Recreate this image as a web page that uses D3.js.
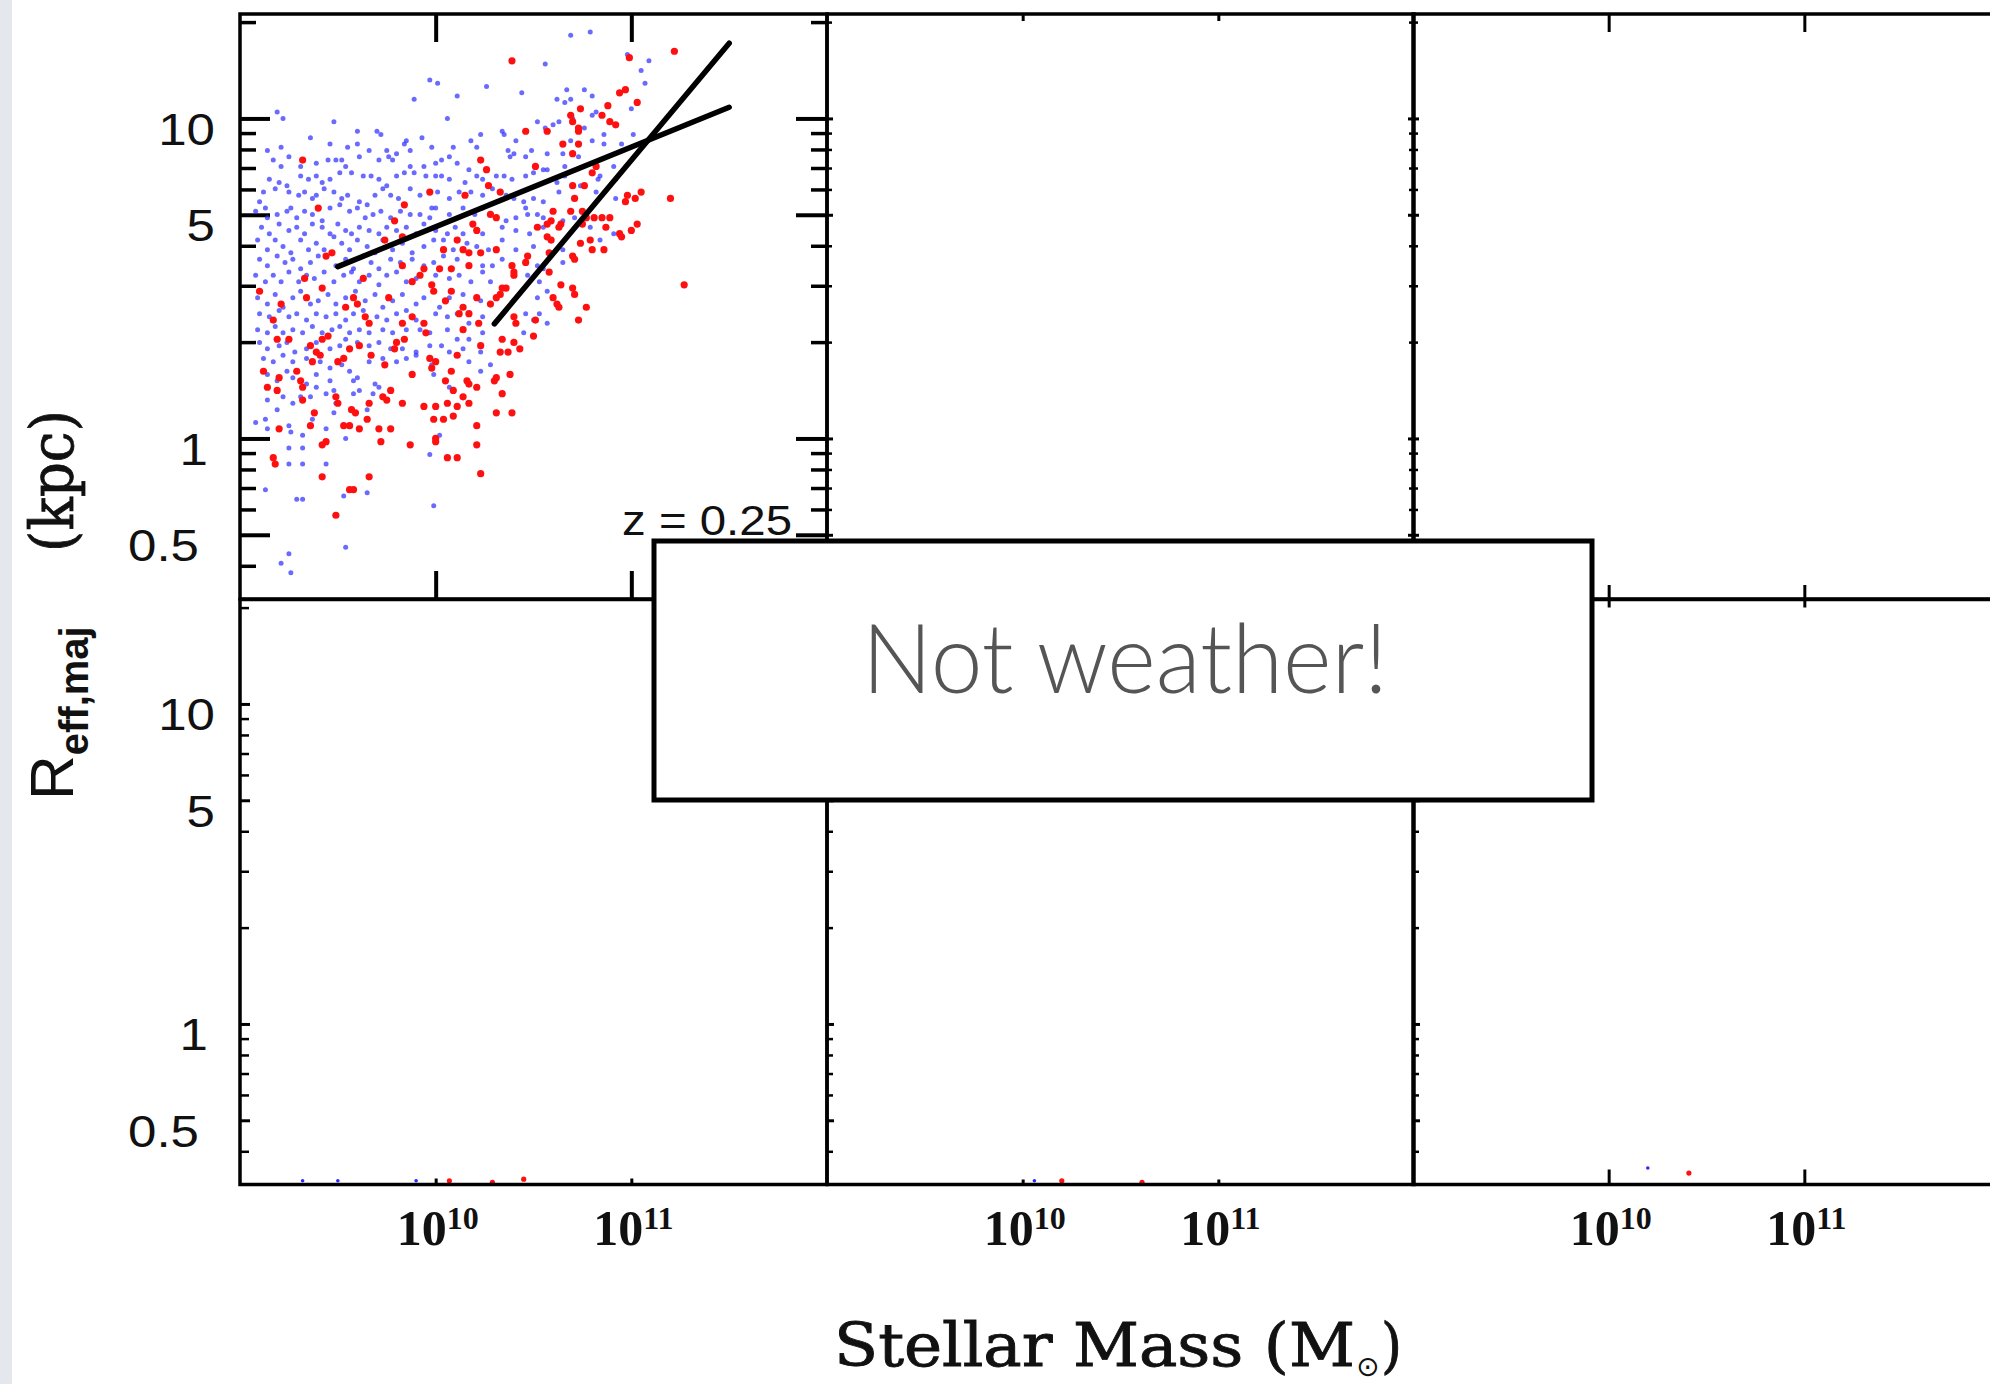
<!DOCTYPE html>
<html>
<head>
<meta charset="utf-8">
<script src="https://cdn.jsdelivr.net/npm/d3@7"></script>
<style>
  body { margin: 0; background: #fff; }
  svg { display: block; }
</style>
</head>
<body>
<svg width="1990" height="1384"></svg>
<script>
// values: log10(M*/Msun), log10(Reff/kpc)
const blueGalaxies = [
  [10.69,1.26],[10.79,1.27],[10.98,1.20],[10.56,1.17],[11.09,1.18],[11.05,1.15],[11.07,1.11],[9.97,1.12],[10.01,1.11],[10.26,1.10],
  [10.44,1.08],[10.11,1.07],[9.89,1.06],[10.67,1.09],[10.76,1.09],[10.80,1.07],[10.62,1.06],[10.66,1.05],[10.69,1.06],[11.00,1.03],
  [11.03,1.05],[10.06,1.00],[9.19,1.02],[9.22,1.00],[10.80,1.01],[10.82,1.02],[10.70,1.00],[9.48,0.99],[9.60,0.96],[9.70,0.96],
  [9.72,0.95],[10.52,0.99],[10.60,0.98],[10.63,0.99],[10.76,0.97],[10.86,0.95],[11.01,0.95],[10.34,0.96],[10.35,0.95],[10.56,0.97],
  [10.23,0.95],[10.18,0.93],[9.36,0.94],[9.93,0.94],[9.85,0.93],[9.84,0.92],[9.46,0.92],[9.55,0.91],[9.60,0.92],[9.66,0.90],
  [9.75,0.90],[9.98,0.91],[10.09,0.91],[10.21,0.91],[10.41,0.93],[10.49,0.90],[10.57,0.89],[10.65,0.89],[10.69,0.93],[10.80,0.93],
  [10.86,0.92],[10.95,0.92],[10.37,0.90],[10.40,0.89],[9.14,0.90],[9.21,0.91],[9.25,0.88],[9.80,0.89],[9.87,0.90],[9.17,0.87],
  [9.21,0.85],[9.31,0.85],[9.39,0.86],[9.45,0.87],[9.49,0.87],[9.52,0.87],[9.54,0.85],[9.61,0.88],[9.71,0.87],[9.76,0.88],
  [9.78,0.87],[9.87,0.85],[9.94,0.85],[10.00,0.86],[10.03,0.87],[10.07,0.88],[10.11,0.86],[10.38,0.88],[10.46,0.88],[10.55,0.84],
  [10.57,0.84],[10.66,0.85],[10.73,0.88],[10.91,0.85],[10.84,0.82],[10.17,0.84],[9.15,0.81],[9.20,0.80],[9.24,0.79],[9.31,0.82],
  [9.35,0.81],[9.39,0.82],[9.42,0.80],[9.46,0.81],[9.51,0.83],[9.57,0.83],[9.63,0.82],[9.67,0.82],[9.71,0.81],[9.75,0.79],
  [9.80,0.82],[9.84,0.83],[9.89,0.83],[9.95,0.82],[10.00,0.82],[10.03,0.82],[10.07,0.81],[10.15,0.80],[10.21,0.82],[10.24,0.81],
  [10.31,0.82],[10.35,0.82],[10.39,0.81],[10.46,0.82],[10.50,0.83],[10.62,0.80],[10.66,0.82],[10.92,0.81],[10.83,0.81],[9.10,0.74],
  [9.12,0.77],[9.18,0.78],[9.25,0.77],[9.30,0.76],[9.33,0.77],[9.37,0.75],[9.39,0.76],[9.43,0.78],[9.48,0.77],[9.52,0.75],
  [9.55,0.76],[9.61,0.74],[9.65,0.73],[9.69,0.76],[9.73,0.78],[9.77,0.76],[9.81,0.75],[9.87,0.78],[9.92,0.76],[10.01,0.77],
  [10.07,0.75],[10.12,0.77],[10.18,0.77],[10.24,0.76],[10.29,0.78],[10.36,0.76],[10.40,0.75],[10.45,0.74],[10.50,0.75],[10.55,0.74],
  [10.63,0.77],[10.74,0.79],[10.82,0.77],[10.92,0.75],[9.98,0.72],[9.08,0.71],[9.13,0.72],[9.14,0.69],[9.19,0.70],[9.24,0.71],
  [9.26,0.72],[9.29,0.69],[9.33,0.71],[9.37,0.70],[9.42,0.68],[9.46,0.72],[9.51,0.73],[9.56,0.71],[9.60,0.72],[9.64,0.69],
  [9.68,0.70],[9.72,0.71],[9.77,0.69],[9.82,0.71],[9.87,0.70],[9.92,0.70],[9.97,0.69],[10.00,0.72],[10.07,0.70],[10.14,0.72],
  [10.20,0.70],[10.24,0.72],[10.36,0.68],[10.41,0.69],[10.46,0.72],[10.52,0.70],[10.55,0.69],[10.65,0.68],[10.71,0.69],[10.47,0.70],
  [9.11,0.66],[9.15,0.64],[9.20,0.67],[9.25,0.65],[9.29,0.66],[9.33,0.64],[9.37,0.67],[9.42,0.66],[9.46,0.64],[9.50,0.67],
  [9.54,0.65],[9.57,0.64],[9.61,0.66],[9.66,0.65],[9.71,0.64],[9.75,0.66],[9.80,0.65],[9.85,0.66],[9.90,0.64],[9.94,0.67],
  [10.00,0.65],[10.06,0.64],[10.10,0.66],[10.14,0.64],[10.24,0.64],[10.34,0.66],[10.41,0.65],[10.48,0.64],[10.55,0.66],[10.79,0.66],
  [10.91,0.64],[9.09,0.62],[9.14,0.59],[9.18,0.62],[9.22,0.60],[9.26,0.58],[9.31,0.62],[9.35,0.59],[9.39,0.61],[9.43,0.59],
  [9.48,0.63],[9.52,0.61],[9.56,0.59],[9.60,0.62],[9.65,0.60],[9.69,0.58],[9.73,0.62],[9.78,0.59],[9.83,0.61],[9.88,0.58],
  [9.94,0.60],[9.99,0.62],[10.04,0.62],[10.09,0.59],[10.16,0.61],[10.21,0.60],[10.27,0.59],[10.34,0.62],[10.41,0.59],[10.50,0.60],
  [10.65,0.59],[10.84,0.62],[9.10,0.56],[9.14,0.54],[9.19,0.57],[9.23,0.55],[9.27,0.56],[9.31,0.53],[9.36,0.55],[9.40,0.57],
  [9.49,0.54],[9.54,0.56],[9.58,0.53],[9.63,0.57],[9.67,0.55],[9.71,0.53],[9.77,0.56],[9.82,0.55],[9.88,0.56],[9.94,0.54],
  [9.99,0.55],[10.04,0.57],[10.11,0.56],[10.24,0.54],[10.29,0.54],[10.34,0.56],[10.52,0.54],[10.55,0.53],[10.65,0.55],[9.08,0.51],
  [9.13,0.49],[9.17,0.51],[9.21,0.49],[9.25,0.52],[9.30,0.49],[9.34,0.51],[9.38,0.50],[9.43,0.52],[9.48,0.49],[9.53,0.51],
  [9.57,0.52],[9.61,0.49],[9.66,0.51],[9.71,0.48],[9.75,0.51],[9.80,0.52],[9.85,0.49],[9.90,0.50],[10.00,0.51],[10.07,0.50],
  [10.12,0.51],[10.18,0.49],[10.24,0.52],[10.28,0.49],[10.47,0.51],[10.53,0.49],[9.09,0.44],[9.14,0.42],[9.18,0.45],[9.22,0.41],
  [9.27,0.44],[9.31,0.46],[9.36,0.42],[9.40,0.43],[9.45,0.45],[9.49,0.42],[9.54,0.44],[9.59,0.46],[9.64,0.43],[9.69,0.45],
  [9.73,0.41],[9.78,0.43],[9.83,0.45],[9.90,0.42],[9.94,0.44],[10.02,0.41],[10.07,0.44],[10.14,0.45],[10.23,0.43],[10.52,0.44],
  [10.57,0.46],[9.10,0.39],[9.15,0.38],[9.20,0.40],[9.25,0.38],[9.29,0.39],[9.34,0.37],[9.39,0.39],[9.44,0.38],[9.49,0.39],
  [9.54,0.37],[9.58,0.39],[9.63,0.40],[9.70,0.38],[9.75,0.37],[9.80,0.39],[9.85,0.40],[9.90,0.37],[10.00,0.39],[10.06,0.38],
  [10.11,0.39],[10.17,0.36],[10.24,0.38],[10.46,0.39],[10.50,0.37],[10.57,0.36],[10.53,0.39],[9.09,0.34],[9.14,0.33],[9.18,0.35],
  [9.22,0.33],[9.27,0.34],[9.32,0.33],[9.37,0.35],[9.42,0.33],[9.47,0.34],[9.51,0.35],[9.56,0.33],[9.61,0.34],[9.66,0.33],
  [9.73,0.34],[9.78,0.33],[9.85,0.34],[9.92,0.34],[9.97,0.33],[10.06,0.34],[10.11,0.31],[10.17,0.31],[10.24,0.33],[10.45,0.33],
  [9.10,0.30],[9.14,0.28],[9.20,0.29],[9.24,0.30],[9.28,0.27],[9.34,0.28],[9.39,0.30],[9.46,0.28],[9.51,0.29],[9.54,0.31],
  [9.60,0.30],[9.66,0.29],[9.71,0.30],[9.77,0.28],[9.83,0.28],[9.90,0.27],[9.97,0.29],[10.03,0.29],[10.14,0.28],[10.07,0.27],
  [10.23,0.27],[9.12,0.25],[9.17,0.24],[9.22,0.26],[9.27,0.24],[9.34,0.25],[9.41,0.24],[9.46,0.22],[9.52,0.23],[9.56,0.21],
  [9.60,0.19],[9.66,0.24],[9.73,0.25],[9.80,0.24],[9.85,0.25],[9.90,0.26],[9.99,0.20],[10.17,0.24],[10.23,0.21],[10.28,0.23],
  [9.14,0.20],[9.19,0.18],[9.24,0.21],[9.27,0.19],[9.34,0.17],[9.39,0.20],[9.46,0.18],[9.48,0.15],[9.58,0.18],[9.61,0.15],
  [9.69,0.17],[9.71,0.16],[9.98,0.23],[10.07,0.16],[9.14,0.12],[9.19,0.09],[9.22,0.13],[9.27,0.11],[9.31,0.13],[9.36,0.13],
  [9.39,0.16],[9.44,0.14],[9.49,0.11],[9.58,0.14],[9.65,0.09],[9.68,0.14],[9.08,0.05],[9.13,0.06],[9.14,0.03],[9.25,0.04],
  [9.26,0.02],[9.32,0.01],[9.37,0.06],[9.44,0.03],[9.48,0.08],[9.54,0.00],[9.25,-0.03],[9.32,-0.03],[9.25,-0.08],[9.32,-0.08],
  [9.44,-0.08],[9.97,-0.05],[10.02,0.01],[9.13,-0.16],[9.29,-0.19],[9.32,-0.19],[9.53,-0.18],[9.65,-0.17],[9.99,-0.21],[9.54,-0.34],
  [9.25,-0.36],[9.21,-0.39],[9.26,-0.42]
]

const redGalaxies = [
  [10.39,1.18],[10.99,1.19],[11.22,1.21],[10.94,1.08],[10.97,1.09],[11.03,1.05],[10.74,1.03],[10.88,1.04],[10.85,1.01],[10.69,1.01],
  [10.70,0.99],[10.73,0.97],[10.73,0.96],[10.89,0.99],[10.92,0.98],[10.46,0.96],[10.57,0.96],[10.65,0.92],[10.73,0.92],[10.70,0.89],
  [10.51,0.85],[10.82,0.85],[10.80,0.83],[10.23,0.87],[10.26,0.84],[10.27,0.79],[10.33,0.77],[10.15,0.76],[9.97,0.77],[9.84,0.73],
  [9.40,0.72],[9.32,0.87],[9.79,0.68],[9.83,0.63],[9.74,0.62],[10.70,0.79],[10.76,0.79],[10.71,0.75],[10.60,0.71],[10.69,0.71],
  [10.75,0.71],[10.77,0.69],[10.81,0.69],[10.85,0.69],[10.89,0.69],[10.87,0.66],[10.52,0.66],[10.57,0.67],[10.59,0.68],[10.64,0.67],
  [10.63,0.66],[10.75,0.67],[10.97,0.74],[10.98,0.76],[11.02,0.75],[11.05,0.77],[11.20,0.75],[10.94,0.64],[10.95,0.63],[11.00,0.65],
  [11.03,0.67],[10.28,0.70],[10.31,0.69],[10.19,0.67],[10.21,0.65],[10.11,0.62],[10.04,0.59],[10.14,0.59],[10.23,0.58],[10.31,0.59],
  [10.17,0.58],[10.57,0.63],[10.59,0.62],[10.58,0.58],[10.74,0.61],[10.79,0.62],[10.80,0.59],[10.86,0.59],[10.47,0.57],[10.46,0.55],
  [10.70,0.57],[10.71,0.56],[10.39,0.54],[10.40,0.52],[10.40,0.51],[10.58,0.52],[10.64,0.48],[10.70,0.47],[10.71,0.45],[10.77,0.41],
  [11.27,0.48],[10.60,0.44],[10.62,0.42],[10.63,0.41],[10.34,0.47],[10.36,0.47],[10.33,0.45],[10.31,0.44],[10.28,0.42],[10.21,0.44],
  [10.17,0.54],[10.08,0.53],[10.02,0.53],[9.98,0.48],[9.99,0.46],[9.94,0.53],[9.92,0.51],[9.88,0.49],[9.76,0.44],[9.63,0.50],
  [9.58,0.44],[9.60,0.42],[9.54,0.41],[9.44,0.57],[9.47,0.58],[9.33,0.50],[9.42,0.47],[9.34,0.44],[9.21,0.42],[9.10,0.46],
  [9.83,0.54],[10.08,0.46],[10.14,0.41],[10.05,0.43],[9.17,0.37],[9.19,0.31],[9.12,0.21],[9.20,0.19],[9.19,0.15],[9.14,0.16],
  [9.29,0.21],[9.31,0.18],[9.32,0.16],[9.32,0.12],[9.25,0.31],[9.36,0.29],[9.39,0.27],[9.42,0.31],[9.45,0.32],[9.37,0.24],
  [9.41,0.26],[9.50,0.24],[9.53,0.25],[9.56,0.28],[9.61,0.29],[9.64,0.38],[9.66,0.36],[9.67,0.26],[9.74,0.23],[9.79,0.28],
  [9.80,0.30],[9.84,0.31],[9.83,0.36],[9.88,0.38],[9.94,0.36],[9.95,0.33],[9.88,0.20],[9.97,0.25],[10.00,0.24],[9.98,0.22],
  [10.05,0.18],[10.08,0.21],[10.11,0.26],[10.14,0.34],[10.12,0.39],[10.17,0.39],[10.23,0.29],[10.22,0.36],[10.31,0.19],[10.30,0.18],
  [10.16,0.18],[10.17,0.17],[10.21,0.16],[10.09,0.15],[10.14,0.13],[10.17,0.11],[10.11,0.10],[10.06,0.11],[10.00,0.10],[9.94,0.10],
  [9.83,0.11],[9.77,0.15],[9.73,0.13],[9.75,0.12],[9.66,0.11],[9.65,0.06],[9.61,0.03],[9.56,0.04],[9.53,0.04],[9.57,0.09],
  [9.59,0.08],[9.49,0.13],[9.50,0.11],[9.38,0.08],[9.36,0.04],[9.20,0.03],[9.42,-0.02],[9.44,-0.01],[9.71,0.03],[9.77,0.03],
  [9.72,-0.01],[9.87,-0.02],[10.00,0.00],[10.00,-0.01],[9.99,0.06],[10.04,0.06],[10.09,0.07],[10.21,0.04],[10.21,-0.02],[10.06,-0.06],
  [10.11,-0.06],[10.23,-0.11],[10.31,0.08],[10.39,0.08],[10.34,0.14],[10.38,0.20],[10.33,0.27],[10.37,0.27],[10.40,0.30],[10.43,0.28],
  [10.41,0.36],[10.40,0.38],[10.34,0.31],[10.50,0.32],[10.51,0.37],[10.73,0.37],[9.17,-0.06],[9.18,-0.08],[9.42,-0.12],[9.66,-0.12],
  [9.56,-0.16],[9.58,-0.16],[9.49,-0.24]
]

// size-mass relations drawn in the z = 0.25 panel (log M, log R)
const blueFit = [[9.50,0.537],[11.50,1.035]]
const redFit = [[10.30,0.358],[11.50,1.235]]

// stray points sitting on the lower edge of the bottom-row panels: [column, log M, log R]
const edgeBlue = [[0,9.32,-0.49],[0,9.50,-0.49],[0,9.90,-0.49],[1,10.06,-0.49],[2,10.20,-0.45]]
const edgeRed = [[0,10.07,-0.49],[0,10.29,-0.495],[0,10.45,-0.485],[1,10.20,-0.49],[1,10.61,-0.495],[2,10.41,-0.466]]

const xDomain = [1e9, 1e12]
const yDomain = [0.315, 21.2]
const xTicks = [1e10, 1e11]
const xTickExp = ['10', '11']
const yMajor = [0.5, 1, 5, 10]
const yMinor = [0.4, 0.6, 0.7, 0.8, 0.9, 2, 3, 4, 6, 7, 8, 9, 20]
const yLabels = ['0.5', '1', '5', '10']

let svg = d3.select("svg")

const colX = [240, 827, 1413],
    rowY = [14, 599.5],
    panelW = 587,
    panelH = 585

// slide edge strip
svg.append("rect").attr("x", 0).attr("y", 0).attr("width", 12).attr("height", 1384).attr("fill", "#e4e7eb")

// tick lengths per panel: [major, minor] on left/right, plain on top/bottom
const panels = [
    {col: 0, row: 0, left: [30, 16], right: [31, 16], top: 28, bottom: 28, w: 4},
    {col: 1, row: 0, left: [6, 5], right: [6, 5], top: 7, bottom: 7, w: 3},
    {col: 2, row: 0, left: [6, 5], right: [0, 0], top: 18, bottom: 14, w: 3},
    {col: 0, row: 1, left: [10, 9], right: [0, 0], top: 0, bottom: 6, w: 3},
    {col: 1, row: 1, left: [7, 6], right: [0, 0], top: 0, bottom: 5, w: 3},
    {col: 2, row: 1, left: [7, 6], right: [0, 0], top: 8, bottom: 15, w: 3}
]

function scalesFor(col, row) {
    let x = d3.scaleLog().domain(xDomain).range([colX[col], colX[col] + panelW])
    let y = d3.scaleLog().domain(yDomain).range([rowY[row] + panelH, rowY[row]])
    return {x, y}
}

function tickGroup(axis, tx, ty, w) {
    svg.append("g")
        .attr("transform", "translate(" + tx + "," + ty + ")")
        .call(axis)
        .call(g => g.select(".domain").remove())
        .call(g => g.selectAll(".tick text").remove())
        .call(g => g.selectAll(".tick line").attr("stroke", "#000").attr("stroke-width", w))
}

panels.forEach(function (p) {
    let {x, y} = scalesFor(p.col, p.row)
    let x0 = colX[p.col], y0 = rowY[p.row]

    if (p.left[0]) {
        tickGroup(d3.axisLeft(y).tickValues(yMajor).tickSize(-p.left[0]), x0, 0, p.w)
        tickGroup(d3.axisLeft(y).tickValues(yMinor).tickSize(-p.left[1]), x0, 0, p.w - 0.5)
    }
    if (p.right[0]) {
        tickGroup(d3.axisRight(y).tickValues(yMajor).tickSize(-p.right[0]), x0 + panelW, 0, p.w)
        tickGroup(d3.axisRight(y).tickValues(yMinor).tickSize(-p.right[1]), x0 + panelW, 0, p.w - 0.5)
    }
    if (p.top) tickGroup(d3.axisTop(x).tickValues(xTicks).tickSize(-p.top), 0, y0, p.w)
    if (p.bottom) tickGroup(d3.axisBottom(x).tickValues(xTicks).tickSize(-p.bottom), 0, y0 + panelH, p.w)
})

// clip for the scatter panel
svg.append("clipPath").attr("id", "clip0")
    .append("rect").attr("x", colX[0]).attr("y", rowY[0]).attr("width", panelW).attr("height", panelH)

let s0 = scalesFor(0, 0)
let pts = svg.append("g").attr("clip-path", "url(#clip0)")

pts.append("g").selectAll("circle").data(blueGalaxies)
    .enter().append("circle")
    .attr("cx", d => s0.x(Math.pow(10, d[0])))
    .attr("cy", d => s0.y(Math.pow(10, d[1])))
    .attr("r", 2.5)
    .style("fill", "#3030ff")
    .style("opacity", 0.72)

pts.append("g").selectAll("circle").data(redGalaxies)
    .enter().append("circle")
    .attr("cx", d => s0.x(Math.pow(10, d[0])))
    .attr("cy", d => s0.y(Math.pow(10, d[1])))
    .attr("r", 3.6)
    .style("fill", "#ff1010")

let line = d3.line()
    .x(d => s0.x(Math.pow(10, d[0])))
    .y(d => s0.y(Math.pow(10, d[1])))

;[blueFit, redFit].forEach(function (f) {
    pts.append("path").attr("d", line(f))
        .attr("fill", "none").attr("stroke", "#000")
        .attr("stroke-width", 5.5).attr("stroke-linecap", "round")
})

// stray edge points in the bottom row
for (let c = 0; c < 3; c++) {
    svg.append("clipPath").attr("id", "clipb" + c)
        .append("rect").attr("x", colX[c]).attr("y", rowY[1]).attr("width", panelW).attr("height", panelH)
}
;[[edgeBlue, "#2a2aff", 1.8], [edgeRed, "#ff1010", 2.6]].forEach(function (e) {
    svg.append("g").selectAll("circle").data(e[0])
        .enter().append("circle")
        .attr("clip-path", d => "url(#clipb" + d[0] + ")")
        .attr("cx", d => scalesFor(d[0], 1).x(Math.pow(10, d[1])))
        .attr("cy", d => scalesFor(d[0], 1).y(Math.pow(10, d[2])))
        .attr("r", e[2])
        .style("fill", e[1])
})

// frames
panels.forEach(function (p) {
    svg.append("rect")
        .attr("x", colX[p.col]).attr("y", rowY[p.row])
        .attr("width", panelW).attr("height", panelH)
        .attr("fill", "none").attr("stroke", "#000").attr("stroke-width", 3.5)
})

// y tick labels on the left column (the original is a little stretched sideways)
const labelDx = [-16, -7, 0, 0]
for (let r = 0; r < 2; r++) {
    let {y} = scalesFor(0, r)
    svg.append("g").selectAll("text").data(yMajor)
        .enter().append("text")
        .attr("transform", (d, i) => "translate(" + (215 + labelDx[i]) + "," + (y(d) + 11) + ") scale(1.16,1)")
        .attr("dominant-baseline", "central")
        .attr("text-anchor", "end")
        .style("font-family", "'Liberation Sans', Arial, sans-serif")
        .style("font-size", "44px")
        .style("fill", "#111")
        .text((d, i) => yLabels[i])
}

// x tick labels with exponents
for (let c = 0; c < 3; c++) {
    let {x} = scalesFor(c, 1)
    xTicks.forEach(function (v, i) {
        let t = svg.append("text")
            .attr("x", x(v) + 2)
            .attr("y", 1245)
            .attr("text-anchor", "middle")
            .style("font-family", "'Liberation Serif', 'Times New Roman', serif")
            .style("font-weight", "bold")
            .style("fill", "#111")
        t.append("tspan").style("font-size", "50px").text("10")
        t.append("tspan").attr("dy", -16).style("font-size", "32px").text(xTickExp[i])
    })
}

// redshift tag
svg.append("text")
    .attr("x", 622).attr("y", 535)
    .attr("textLength", 170).attr("lengthAdjust", "spacingAndGlyphs")
    .style("font-family", "'Liberation Sans', Arial, sans-serif")
    .style("font-size", "42px")
    .style("fill", "#111")
    .text("z = 0.25")

// x axis title
const titleFont = "'DejaVu Serif Condensed', 'DejaVu Serif', serif"
svg.append("text")
    .attr("x", 834).attr("y", 1366)
    .attr("textLength", 521).attr("lengthAdjust", "spacingAndGlyphs")
    .style("font-family", titleFont)
    .style("font-size", "60px")
    .style("fill", "#111")
    .style("stroke", "#111").style("stroke-width", 0.8)
    .text("Stellar Mass (M")
svg.append("text")
    .attr("x", 1356).attr("y", 1376)
    .style("font-family", "'DejaVu Sans', sans-serif")
    .style("font-size", "28px")
    .style("fill", "#111")
    .text("⊙")
svg.append("text")
    .attr("x", 1381).attr("y", 1366)
    .style("font-family", titleFont)
    .style("font-size", "60px")
    .style("fill", "#111")
    .style("stroke", "#111").style("stroke-width", 0.8)
    .text(")")

// y axis title
let yt = svg.append("text")
    .attr("transform", "translate(73,800) rotate(-90)")
    .style("fill", "#111")
yt.append("tspan")
    .style("font-family", "'Liberation Sans', Arial, sans-serif")
    .style("font-size", "62px")
    .text("R")
yt.append("tspan")
    .attr("dy", 15)
    .style("font-family", "'Liberation Sans', Arial, sans-serif")
    .style("font-weight", "bold")
    .style("font-size", "40px")
    .text("eff,maj")

svg.append("text")
    .attr("transform", "translate(73,552) rotate(-90)")
    .attr("textLength", 142).attr("lengthAdjust", "spacingAndGlyphs")
    .style("font-family", "'DejaVu Serif', serif")
    .style("font-size", "60px")
    .style("fill", "#111")
    .style("stroke", "#111").style("stroke-width", 0.8)
    .text("(kpc)")

// overlay caption box
svg.append("rect")
    .attr("x", 654).attr("y", 541)
    .attr("width", 938).attr("height", 259)
    .attr("fill", "#fff").attr("stroke", "#000").attr("stroke-width", 5)

svg.append("text")
    .attr("x", 862).attr("y", 693)
    .attr("textLength", 526).attr("lengthAdjust", "spacingAndGlyphs")
    .style("font-family", "Lato, 'Open Sans', sans-serif")
    .style("font-weight", 300)
    .style("font-size", "96px")
    .style("fill", "#555")
    .text("Not weather!")
</script>
</body>
</html>
